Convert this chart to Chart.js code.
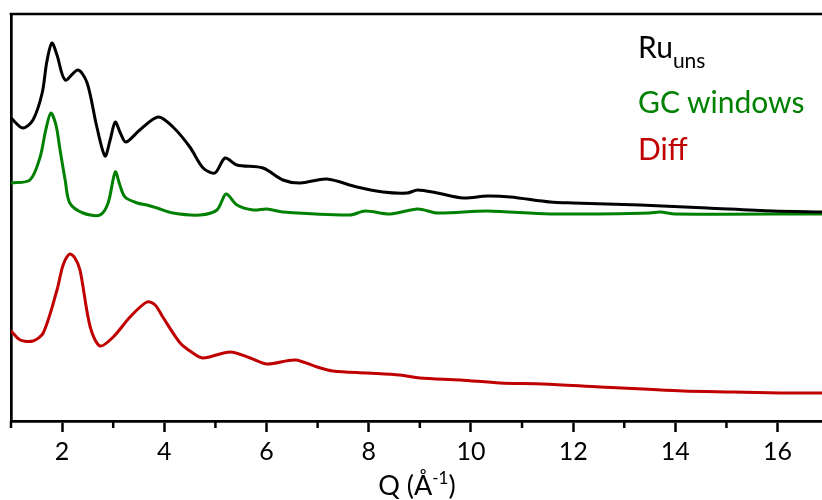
<!DOCTYPE html>
<html>
<head>
<meta charset="utf-8">
<script src="https://cdn.jsdelivr.net/npm/chart.js@4"></script>
<style>
  body { margin: 0; background: #fff; }
  #wrap { position: relative; width: 822px; height: 500px; overflow: hidden; }
  .lbl { position: absolute; font-family: Lato, sans-serif; font-size: 30px; line-height: 36px; white-space: nowrap; }
  .lbl sub { font-size: 21px; vertical-align: baseline; position: relative; top: 10px; }
  #xtitle { position: absolute; left: 0; width: 822px; padding-left: 12px; box-sizing: border-box; text-align: center; top: 469px;
            font-family: Lato, sans-serif; font-size: 27px; line-height: 32px; }
  #xtitle sup { font-size: 17px; vertical-align: baseline; position: relative; top: -11px; }
</style>
</head>
<body>
<div id="wrap">
  <canvas id="chart" width="822" height="500"></canvas>
  <div class="lbl" style="left:638px; top:28px; color:#000">Ru<sub>uns</sub></div>
  <div class="lbl" style="left:638px; top:83px; color:#008000">GC windows</div>
  <div class="lbl" style="left:638px; top:130px; color:#C00000">Diff</div>
  <div id="xtitle">Q (Å<sup>-1</sup>)</div>
</div>
<script>
// Ru_uns
const ruQ = [1.0, 1.23, 1.43, 1.61, 1.70, 1.80, 1.90, 2.06, 2.31, 2.49, 2.68, 2.84, 2.94, 3.04, 3.14, 3.25,
    3.52, 3.88, 4.17, 4.50, 4.76, 4.99, 5.19, 5.42, 5.93, 6.32, 6.66, 7.18, 7.77, 8.28, 8.75, 8.96,
    9.34, 9.85, 10.32, 10.77, 11.55, 12.0, 13.31, 14.62, 15.91, 16.87];
const ruI = [303, 293, 301, 328, 359, 378, 366, 341, 351, 338, 294, 265, 281, 299, 288, 279,
    291, 304, 294, 274, 253, 248, 263, 256, 253, 241, 238, 242, 234, 229, 228, 231,
    228, 223, 225, 224, 219, 218, 216, 213, 210, 209];

// GC windows
const gcQ = [1.0, 1.37, 1.57, 1.68, 1.78, 1.88, 1.96, 2.06, 2.15, 2.41, 2.74, 2.90, 3.04, 3.13, 3.23, 3.47,
    3.66, 3.86, 4.17, 4.70, 5.03, 5.21, 5.42, 5.74, 6.01, 6.32, 7.63, 7.93, 8.42, 8.96, 9.34, 10.32,
    11.55, 13.50, 13.70, 14.0, 16.87];
const gcI = [238, 241, 264, 291, 308, 296, 271, 241, 218, 208, 206, 218, 249, 236, 224, 218,
    216, 213, 208, 206, 211, 227, 216, 211, 212, 209, 206, 210, 207, 212, 208, 210,
    207, 208, 209, 207, 207];

// Diff
const diffQ = [1.0, 1.18, 1.43, 1.63, 1.90, 2.02, 2.15, 2.25, 2.35, 2.55, 2.74, 3.00, 3.33, 3.66, 3.82, 3.97,
    4.31, 4.56, 4.76, 5.29, 5.68, 6.01, 6.56, 6.99, 7.30, 7.97, 8.61, 9.00, 9.79, 10.57, 11.41, 12.53,
    13.37, 14.15, 15.13, 16.05, 16.87];
const diffI = [90, 81, 80, 88, 131, 156, 167, 163, 151, 94, 75, 84, 104, 119, 116, 104,
    78, 68, 63, 69, 63, 57, 61, 54, 50, 48, 46, 43, 41, 38, 37, 34,
    32, 30, 29, 28, 28];

const majorTicks = [2, 4, 6, 8, 10, 12, 14, 16];
const minorTicks = [1, 3, 5, 7, 9, 11, 13, 15, 17];

const toPoints = (xs, ys) => xs.map((x, i) => ({ x: x, y: ys[i] }));

const frame = {
    id: 'frame',
    afterDraw(chart) {
        const ctx = chart.ctx;
        const area = chart.chartArea;
        const xs = chart.scales.x;
        ctx.save();
        ctx.strokeStyle = '#000';
        ctx.lineWidth = 2.7;
        ctx.beginPath();
        ctx.moveTo(area.left - 1.35, area.top);
        ctx.lineTo(area.right, area.top);
        ctx.stroke();
        ctx.lineWidth = 2.5;
        minorTicks.forEach(v => {
            if (v < xs.min || v > xs.max) return;
            const px = xs.getPixelForValue(v);
            ctx.beginPath();
            ctx.moveTo(px, area.bottom);
            ctx.lineTo(px, area.bottom + 7);
            ctx.stroke();
        });
        ctx.restore();
    }
};

new Chart(document.getElementById('chart'), {
    type: 'line',
    data: {
        datasets: [
            { label: 'Ru_uns', data: toPoints(ruQ, ruI), borderColor: '#000000' },
            { label: 'GC windows', data: toPoints(gcQ, gcI), borderColor: '#008000' },
            { label: 'Diff', data: toPoints(diffQ, diffI), borderColor: '#C00000' }
        ]
    },
    options: {
        responsive: false,
        animation: false,
        layout: { padding: { left: 11, top: 14, right: 0, bottom: 0 } },
        elements: {
            line: { borderWidth: 3, tension: 0.3, fill: false, borderCapStyle: 'round', borderJoinStyle: 'round' },
            point: { radius: 0 }
        },
        plugins: { legend: { display: false }, tooltip: { enabled: false } },
        scales: {
            x: {
                type: 'linear',
                min: 1,
                max: 16.87,
                afterBuildTicks: axis => { axis.ticks = majorTicks.map(v => ({ value: v })); },
                afterFit: axis => { axis.height = 79; },
                ticks: {
                    color: '#000',
                    font: { family: 'Lato', size: 25 },
                    padding: 5,
                    maxRotation: 0,
                    autoSkip: false
                },
                grid: { drawOnChartArea: false, drawTicks: true, tickLength: 11, tickWidth: 2.5, tickColor: '#000' },
                border: { display: true, color: '#000', width: 2.7 }
            },
            y: {
                min: 0,
                max: 407,
                afterFit: axis => { axis.width = 0; },
                ticks: { display: false },
                grid: { display: false, drawTicks: false },
                border: { display: true, color: '#000', width: 2.7 }
            }
        }
    },
    plugins: [frame]
});
</script>
</body>
</html>
